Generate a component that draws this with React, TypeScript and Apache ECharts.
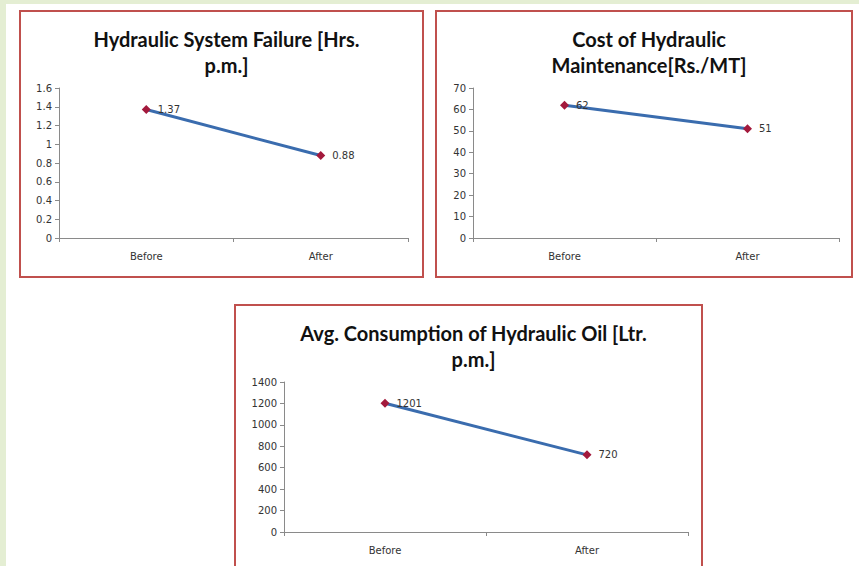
import React, { useEffect, useRef } from "react";
import * as echarts from "echarts";

const categories = ["Before", "After"];

const failureTitle = "Hydraulic System Failure [Hrs.\np.m.]";
const failureValues = [1.37, 0.88];
const failureMax = 1.6;
const failureStep = 0.2;

const costTitle = "Cost of Hydraulic\nMaintenance[Rs./MT]";
const costValues = [62, 51];
const costMax = 70;
const costStep = 10;

const oilTitle = "Avg. Consumption of Hydraulic Oil [Ltr.\np.m.]";
const oilValues = [1201, 720];
const oilMax = 1400;
const oilStep = 200;

const AXIS_COLOR = "#8a8a8a";
const LABEL_COLOR = "#333333";
const LINE_COLOR = "#3a6cae";
const MARKER_COLOR = "#a3193c";
const BORDER_COLOR = "#c0504d";
const GREEN = "#e4eed3";
const AXIS_FONT = "DejaVu Sans";
const TITLE_FONT = "Lato";

export default function App() {
  const ref = useRef<HTMLDivElement>(null);

  useEffect(() => {
    document.body.style.margin = "0";
    if (!ref.current) return;
    const chart = echarts.init(ref.current, undefined, { renderer: "svg" });

    const grids = [
      { left: 59, top: 88, width: 349, height: 150 },
      { left: 473, top: 88, width: 366, height: 150 },
      { left: 284, top: 382, width: 404, height: 150 },
    ];
    const panels = [
      { x: 20, y: 11, w: 403, h: 266 },
      { x: 436, y: 11, w: 416, h: 266 },
      { x: 235, y: 305, w: 467, h: 300 },
    ];
    const titles = [failureTitle, costTitle, oilTitle];
    const titleTops = [21, 21, 315];
    const values = [failureValues, costValues, oilValues];
    const maxes = [failureMax, costMax, oilMax];
    const steps = [failureStep, costStep, oilStep];

    const fmt = (v: number) => String(parseFloat(Number(v).toFixed(4)));

    const option: any = {
      animation: false,
      backgroundColor: "#ffffff",
      title: titles.map((t, i) => ({
        text: t,
        left: panels[i].x + panels[i].w / 2,
        top: titleTops[i],
        textAlign: "center",
        textStyle: {
          fontFamily: TITLE_FONT,
          fontWeight: "bold",
          fontSize: 20,
          lineHeight: 26,
          color: "#111111",
        },
      })),
      graphic: [
        { type: "rect", shape: { x: 0, y: 0, width: 6, height: 566 }, style: { fill: GREEN } },
        { type: "rect", shape: { x: 0, y: 0, width: 859, height: 4 }, style: { fill: GREEN } },
        ...panels.map((p) => ({
          type: "rect",
          shape: { x: p.x, y: p.y, width: p.w, height: p.h },
          style: { fill: "none", stroke: BORDER_COLOR, lineWidth: 2 },
        })),
      ],
      grid: grids,
      xAxis: grids.map((_, i) => ({
        type: "category",
        gridIndex: i,
        data: categories,
        boundaryGap: true,
        axisLine: { show: true, lineStyle: { color: AXIS_COLOR, width: 1 } },
        axisTick: { show: true, length: 4, lineStyle: { color: AXIS_COLOR } },
        axisLabel: { fontFamily: AXIS_FONT, fontSize: 10, color: LABEL_COLOR, margin: 13 },
        splitLine: { show: false },
      })),
      yAxis: grids.map((_, i) => ({
        type: "value",
        gridIndex: i,
        min: 0,
        max: maxes[i],
        interval: steps[i],
        axisLine: { show: true, lineStyle: { color: AXIS_COLOR, width: 1 } },
        axisTick: { show: true, length: 4, lineStyle: { color: AXIS_COLOR } },
        axisLabel: {
          fontFamily: AXIS_FONT,
          fontSize: 10,
          color: LABEL_COLOR,
          margin: 7,
          formatter: fmt,
        },
        splitLine: { show: false },
      })),
      series: values.map((v, i) => ({
        type: "line",
        xAxisIndex: i,
        yAxisIndex: i,
        data: v,
        symbol: "diamond",
        symbolSize: 9,
        lineStyle: { color: LINE_COLOR, width: 3 },
        itemStyle: { color: MARKER_COLOR },
        label: {
          show: true,
          position: "right",
          distance: 7,
          fontFamily: AXIS_FONT,
          fontSize: 10,
          color: LABEL_COLOR,
        },
        z: 3,
      })),
    };

    chart.setOption(option);
    return () => chart.dispose();
  }, []);

  return <div ref={ref} style={{ width: 859, height: 566, background: "#ffffff" }} />;
}
